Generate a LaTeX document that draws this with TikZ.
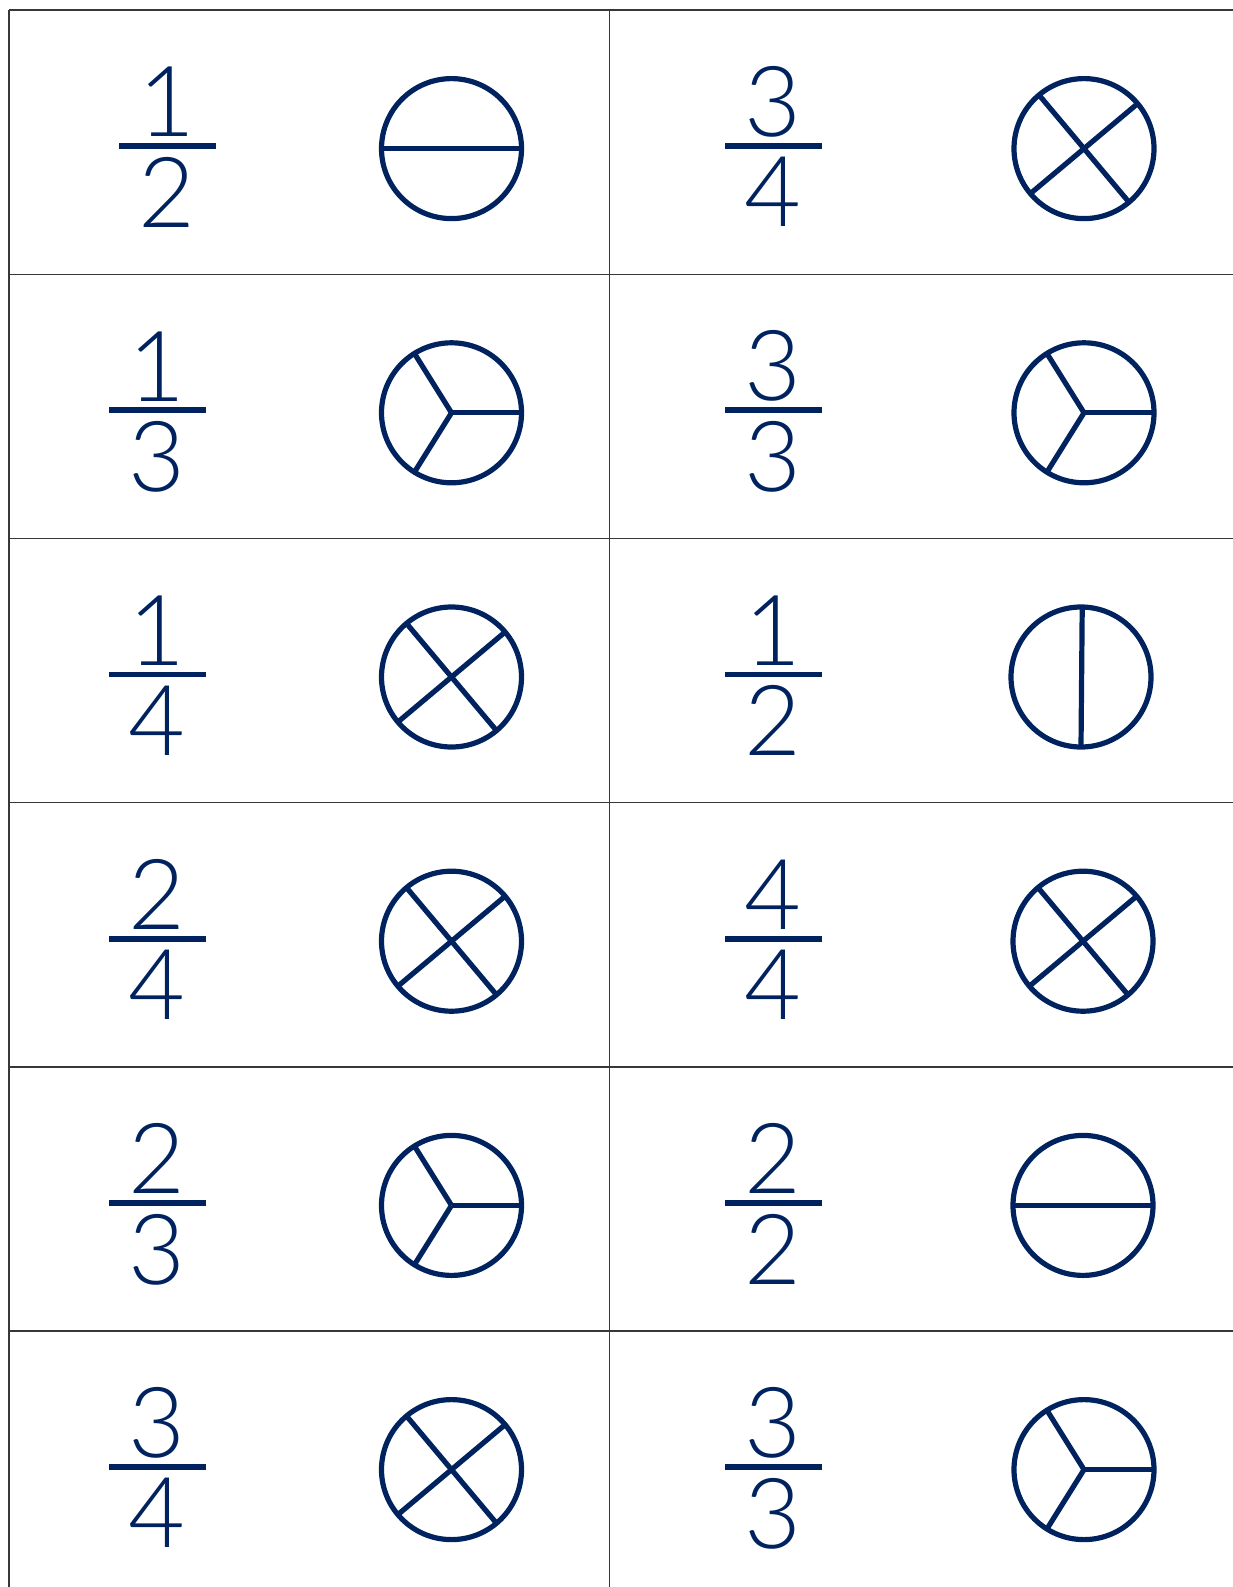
\documentclass[tikz,border=0pt]{standalone}
\usepackage{fontspec}
\newfontfamily\fracfont{Lato Light}
\usetikzlibrary{positioning}
\definecolor{pienavy}{RGB}{0,35,95}
\definecolor{gridgray}{RGB}{55,55,55}

\begin{document}
\begin{tikzpicture}[x=1pt,y=-1pt,
  fracbar/.style={fill=pienavy,minimum width=97pt,minimum height=5.7pt,inner sep=0pt},
  fracdigit/.style={text=pienavy,font=\fracfont\fontsize{98}{106}\selectfont,inner sep=0pt},
  pie/.style={circle,draw=pienavy,line width=5.2pt,minimum size=140pt,inner sep=0pt,outer sep=0pt},
  cut/.style={draw=pienavy,line width=5.2pt},
  cellline/.style={draw=gridgray,line width=1.3pt}
]
  \useasboundingbox (0,0) rectangle (1232,1587);

  % Grid of cards
  \foreach \y in {10.1,274.3,538.5,802.7,1066.9,1331.1}
    \draw[cellline] (9.1,\y) -- (1240,\y);
  \draw[cellline] (9.1,10.1) -- (9.1,1600);
  \draw[cellline] (609.4,10.1) -- (609.4,1600);

  % Row 1: 1/2 and 3/4
  \node[fracbar] (b1l) at (167,146.1) {};
  \node[fracdigit,above=6pt of b1l] (n1l) {1};
  \node[fracdigit,below=8pt of b1l] (d1l) {2};
  \node[pie] (p1l) at (451.5,148.6) {};
  \draw[cut] (p1l.180) -- (p1l.0);
  \node[fracbar] (b1r) at (773.4,146.1) {};
  \node[fracdigit,above=6pt of b1r] (n1r) {3};
  \node[fracdigit,below=8pt of b1r] (d1r) {4};
  \node[pie] (p1r) at (1084,148.6) {};
  \draw[cut] (p1r.130) -- (p1r.310);
  \draw[cut] (p1r.40) -- (p1r.220);

  % Row 2: 1/3 and 3/3
  \node[fracbar] (b2l) at (157,410.3) {};
  \node[fracdigit,above=6pt of b2l] (n2l) {1};
  \node[fracdigit,below=8pt of b2l] (d2l) {3};
  \node[pie] (p2l) at (451.5,412.8) {};
  \draw[cut] (p2l.center) -- (p2l.0);
  \draw[cut] (p2l.center) -- (p2l.122);
  \draw[cut] (p2l.center) -- (p2l.238);
  \node[fracbar] (b2r) at (773.4,410.3) {};
  \node[fracdigit,above=6pt of b2r] (n2r) {3};
  \node[fracdigit,below=8pt of b2r] (d2r) {3};
  \node[pie] (p2r) at (1084,412.8) {};
  \draw[cut] (p2r.center) -- (p2r.0);
  \draw[cut] (p2r.center) -- (p2r.122);
  \draw[cut] (p2r.center) -- (p2r.238);

  % Row 3: 1/4 and 1/2
  \node[fracbar] (b3l) at (157,674.5) {};
  \node[fracdigit,above=6pt of b3l] (n3l) {1};
  \node[fracdigit,below=8pt of b3l] (d3l) {4};
  \node[pie] (p3l) at (451.5,677) {};
  \draw[cut] (p3l.130) -- (p3l.310);
  \draw[cut] (p3l.40) -- (p3l.220);
  \node[fracbar] (b3r) at (773.4,674.5) {};
  \node[fracdigit,above=6pt of b3r] (n3r) {1};
  \node[fracdigit,below=8pt of b3r] (d3r) {2};
  \node[pie] (p3r) at (1081,677) {};
  \draw[cut] (p3r.89) -- (p3r.270);

  % Row 4: 2/4 and 4/4
  \node[fracbar] (b4l) at (157,938.7) {};
  \node[fracdigit,above=6pt of b4l] (n4l) {2};
  \node[fracdigit,below=8pt of b4l] (d4l) {4};
  \node[pie] (p4l) at (451.5,941.2) {};
  \draw[cut] (p4l.130) -- (p4l.310);
  \draw[cut] (p4l.40) -- (p4l.220);
  \node[fracbar] (b4r) at (773.4,938.7) {};
  \node[fracdigit,above=6pt of b4r] (n4r) {4};
  \node[fracdigit,below=8pt of b4r] (d4r) {4};
  \node[pie] (p4r) at (1083,941.2) {};
  \draw[cut] (p4r.130) -- (p4r.310);
  \draw[cut] (p4r.40) -- (p4r.220);

  % Row 5: 2/3 and 2/2
  \node[fracbar] (b5l) at (157,1202.9) {};
  \node[fracdigit,above=6pt of b5l] (n5l) {2};
  \node[fracdigit,below=8pt of b5l] (d5l) {3};
  \node[pie] (p5l) at (451.5,1205.4) {};
  \draw[cut] (p5l.center) -- (p5l.0);
  \draw[cut] (p5l.center) -- (p5l.122);
  \draw[cut] (p5l.center) -- (p5l.238);
  \node[fracbar] (b5r) at (773.4,1202.9) {};
  \node[fracdigit,above=6pt of b5r] (n5r) {2};
  \node[fracdigit,below=8pt of b5r] (d5r) {2};
  \node[pie] (p5r) at (1083,1205.4) {};
  \draw[cut] (p5r.180) -- (p5r.0);

  % Row 6: 3/4 and 3/3
  \node[fracbar] (b6l) at (157,1467.1) {};
  \node[fracdigit,above=6pt of b6l] (n6l) {3};
  \node[fracdigit,below=8pt of b6l] (d6l) {4};
  \node[pie] (p6l) at (451.5,1469.6) {};
  \draw[cut] (p6l.130) -- (p6l.310);
  \draw[cut] (p6l.40) -- (p6l.220);
  \node[fracbar] (b6r) at (773.4,1467.1) {};
  \node[fracdigit,above=6pt of b6r] (n6r) {3};
  \node[fracdigit,below=8pt of b6r] (d6r) {3};
  \node[pie] (p6r) at (1084,1469.6) {};
  \draw[cut] (p6r.center) -- (p6r.0);
  \draw[cut] (p6r.center) -- (p6r.122);
  \draw[cut] (p6r.center) -- (p6r.238);
\end{tikzpicture}
\end{document}
